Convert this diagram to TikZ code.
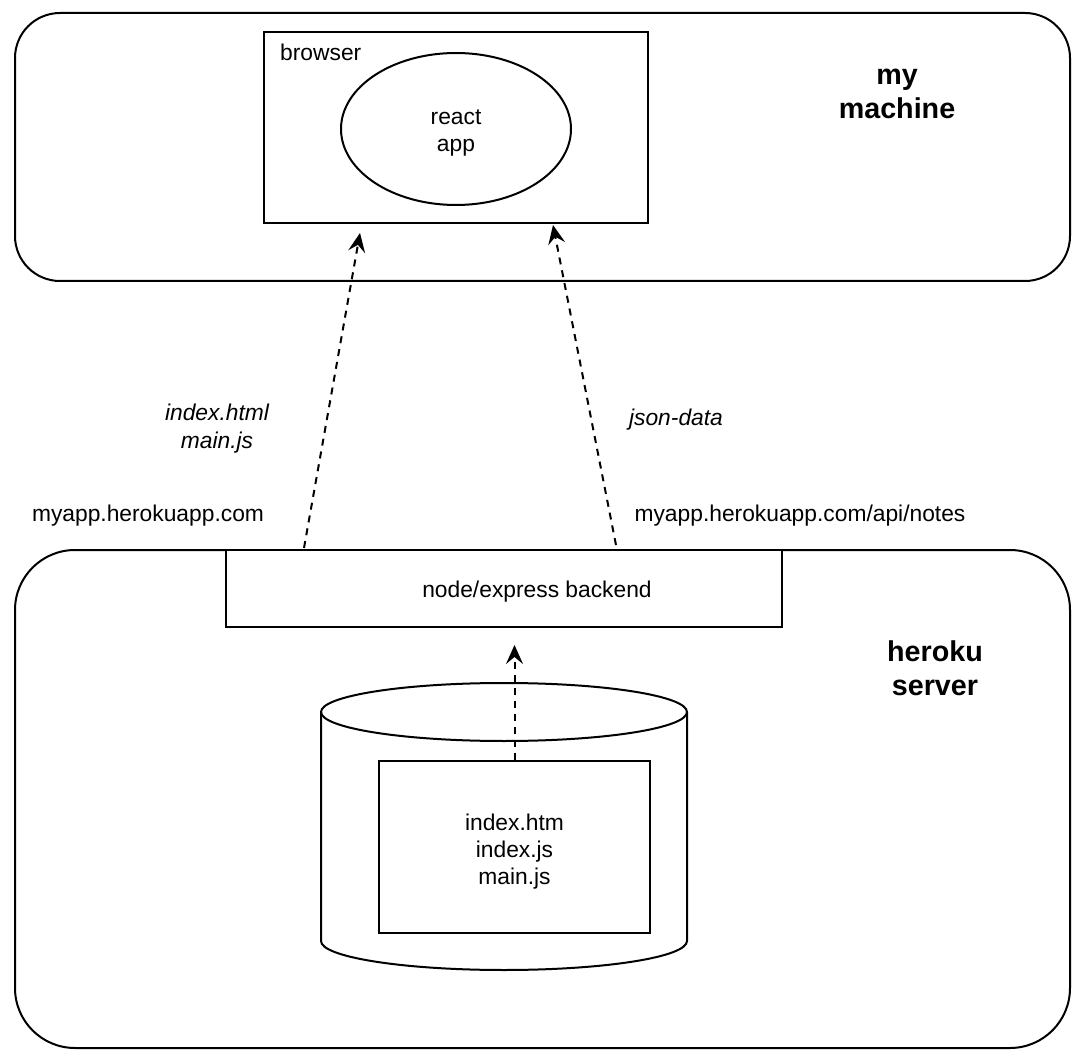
\documentclass[tikz,border=0pt]{standalone}
\usepackage{fontspec}
\setmainfont{Liberation Sans}
\usetikzlibrary{arrows.meta,shapes.geometric}
\begin{document}
\begin{tikzpicture}[x=1pt,y=-1pt,
  box/.style={draw, line width=2pt, inner sep=0pt},
  lbl/.style={font=\fontsize{22.8}{27}\selectfont, align=center, inner sep=0pt},
  itl/.style={font=\fontsize{22.8}{28}\selectfont\itshape, align=center, inner sep=0pt},
  big/.style={font=\fontsize{28.7}{34}\selectfont\bfseries, align=center, inner sep=0pt},
  flow/.style={line width=2pt, dash pattern=on 7pt off 6pt, -{Stealth[length=19pt,width=17pt,inset=7pt]}},
]
\useasboundingbox (0,0) rectangle (1090,1064);
% my machine
\node[box, rounded corners=45pt, minimum width=1055pt, minimum height=268pt] (mine) at (542.5,147) {};
\node[box, minimum width=384pt, minimum height=191pt] (browser) at (456,127.5) {};
\node[lbl, anchor=base west] (browserlbl) at (280,61) {browser};
\node[box, ellipse, minimum width=230pt, minimum height=152pt] (react) at (456,129) {};
\node[lbl] (reactlbl) at (456,133) {react\\app};
\node[big] (minelbl) at (897,94) {my\\machine};
% heroku server
\node[box, rounded corners=60pt, minimum width=1055pt, minimum height=498pt] (heroku) at (542.5,799) {};
\node[box, fill=white, minimum width=556pt, minimum height=77pt] (backend) at (504,588.5) {};
\node[lbl] (backendlbl) at (537,592) {node/express backend};
\node[big] (herokulbl) at (935,668) {heroku\\server};
% database cylinder
\draw[line width=2pt] (504,712) ellipse [x radius=183, y radius=29];
\draw[line width=2pt] (321,712) -- (321,941) arc[start angle=180, end angle=0, x radius=183, y radius=29] -- (687,712);
\node[box, minimum width=271pt, minimum height=172pt] (files) at (514.5,847) {};
\node[lbl] (fileslbl) at (514.5,852) {index.htm\\index.js\\main.js};
% connectors
\coordinate (a1s) at (304,548);
\coordinate (a1e) at (360,233);
\coordinate (a2s) at (616,545);
\coordinate (a2e) at (553,225);
\coordinate (a3e) at (514.5,645);
\draw[flow] (a1s) -- (a1e);
\draw[flow] (a2s) -- (a2e);
\draw[flow] (files.north) -- (a3e);
% labels
\node[itl] (l1) at (217,429) {index.html\\main.js};
\node[itl] (l2) at (676,420) {json-data};
\node[lbl] (u1) at (148,516) {myapp.herokuapp.com};
\node[lbl] (u2) at (800,516) {myapp.herokuapp.com/api/notes};
\end{tikzpicture}
\end{document}
